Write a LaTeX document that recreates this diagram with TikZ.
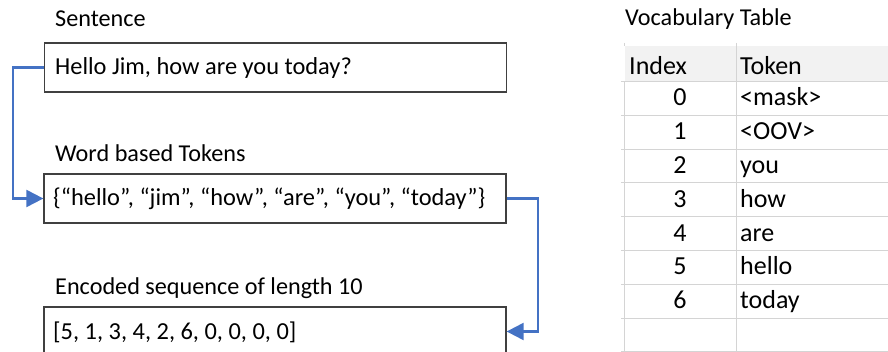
\documentclass[tikz,border=0pt]{standalone}
\usepackage{fontspec}
\setmainfont{Carlito}
\usetikzlibrary{arrows.meta}

\definecolor{boxline}{HTML}{404040}
\definecolor{flowblue}{HTML}{4472C4}
\definecolor{gridgray}{HTML}{D4D4D4}
\definecolor{headfill}{HTML}{F2F2F2}

\tikzset{
  textbox/.style={draw=boxline, line width=1.3pt, minimum width=462pt,
    minimum height=49pt, inner sep=0pt},
  caption/.style={anchor=base west, inner sep=0pt,
    font=\fontsize{24.2}{28}\selectfont},
  boxtext/.style={anchor=base west, inner sep=0pt,
    font=\fontsize{24.4}{28}\selectfont},
  cell/.style={anchor=base, inner sep=0pt,
    font=\fontsize{26}{30}\selectfont},
  celltext/.style={anchor=base west, inner sep=0pt,
    font=\fontsize{26}{30}\selectfont},
  flow/.style={draw=flowblue, line width=2.2pt,
    -{Triangle[length=17pt,width=17pt]}},
  grid line/.style={draw=gridgray, line width=1pt}
}

\begin{document}
\begin{tikzpicture}[x=1pt,y=-1pt]
  \useasboundingbox (0,0) rectangle (888,352);
  \clip (0,0) rectangle (888,352);

  % ---- left column: sentence, tokens, encoding ----
  \node[caption] (capS) at (55,27) {Sentence};
  \node[textbox] (s) at (275.5,67.5) {};
  \node[boxtext] (sText) at (55,75) {Hello Jim, how are you today?};

  \node[caption] (capW) at (55,162) {Word based Tokens};
  \node[textbox] (w) at (275,198.5) {};
  \node[boxtext] (wText) at (53,206)
    {\{“hello”, “jim”, “how”, “are”, “you”, “today”\}};

  \node[caption] (capE) at (55,295) {Encoded sequence of length 10};
  \node[textbox] (e) at (275,331.5) {};
  \node[boxtext] (eText) at (53,339) {[5, 1, 3, 4, 2, 6, 0, 0, 0, 0]};

  % ---- connectors ----
  \draw[flow] (s.west) -- ++(-31,0) |- (w.west);
  \draw[flow] (w.east) -- ++(31,0) |- (e.east);

  % ---- vocabulary table ----
  \node[caption] (capV) at (625,26) {Vocabulary Table};
  \fill[headfill] (624.5,46) rectangle (888,81.5);
  \foreach \y in {81.5,115.3,149.1,182.9,216.7,250.5,284.3,318.1,351.5}
    \path[grid line] (621,\y) -- (888,\y);
  \path[grid line] (624,43) -- (624,46.5);
  \path[grid line] (624,81.5) -- (624,352);
  \path[grid line] (736,43) -- (736,352);

  \node[celltext] (hIdx) at (629,75) {Index};
  \node[celltext] (hTok) at (740,75) {Token};

  \foreach \i/\t [count=\r from 0] in
      {0/{<mask>},1/{<OOV>},2/you,3/how,4/are,5/hello,6/today} {
    \node[cell] (idx\r) at (680,{106+33.8*\r}) {\i};
    \node[celltext] (tok\r) at (740,{106+33.8*\r}) {\t};
  }
\end{tikzpicture}
\end{document}
